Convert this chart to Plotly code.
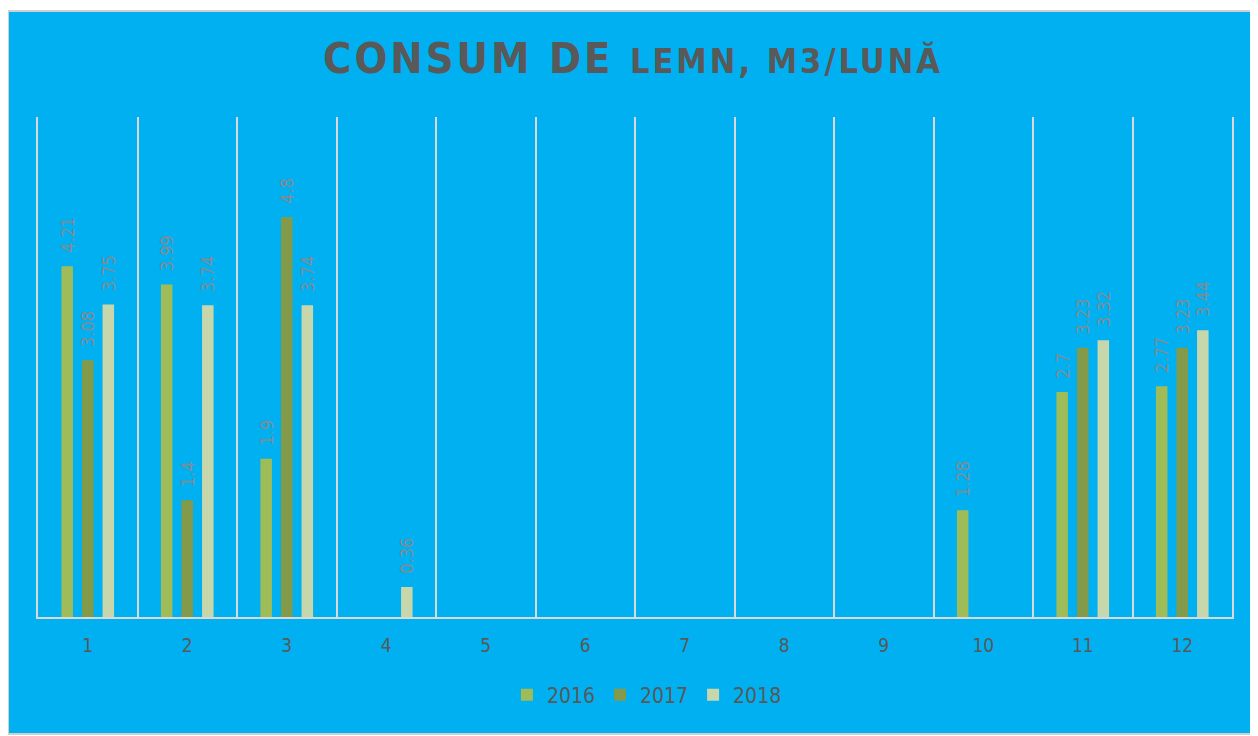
import plotly.graph_objects as go

months = list(range(1, 13))
month_labels = [str(m) for m in months]
years = ["2016", "2017", "2018"]

# None = no bar and no label for that month
v2016 = [4.21, 3.99, 1.9, None, None, None, None, None, None, 1.28, 2.7, 2.77]
v2017 = [3.08, 1.4, 4.8, None, None, None, None, None, None, None, 3.23, 3.23]
v2018 = [3.75, 3.74, 3.74, 0.36, None, None, None, None, None, None, 3.32, 3.44]

series = [v2016, v2017, v2018]
colors = ["#9FBC59", "#839A4A", "#C8D6AC"]

# page body has an 8px margin, so the figure sits at (8, 8) in the window
OFF = 8
W, H = 1258 - OFF, 736 - OFF
L, R, T, B = 38 - OFF, 1258 - 1232, 117 - OFF, 736 - 617
pw, ph = W - L - R, H - T - B


def px_x(p):
    return (p - OFF - L) / pw


def px_y(p):
    return (H - B - (p - OFF)) / ph


fig = go.Figure()
for name, vals, col in zip(years, series, colors):
    fig.add_trace(go.Bar(
        x=months,
        y=vals,
        name=name,
        marker=dict(color=col, line=dict(width=0)),
        # leading spaces keep the rotated label a little above the bar
        text=[("" if v is None else "\u00a0\u00a0" + f"{v:g}") for v in vals],
        textposition="outside",
        textangle=-90,
        constraintext="none",
        cliponaxis=False,
        textfont=dict(family="DejaVu Sans Condensed, DejaVu Sans", size=18, color="#7F8C95"),
    ))

fig.update_layout(
    width=W,
    height=H,
    paper_bgcolor="white",
    plot_bgcolor="#00B0F0",
    margin=dict(l=L, r=R, t=T, b=B),
    barmode="group",
    bargap=0.38,
    bargroupgap=0.44,
    title=dict(
        text=("<b><span style='letter-spacing:3px'>CONSUM DE "
              "<span style='font-size:34px'>LEMN, M3/LUNĂ</span></span></b>"),
        x=0.5,
        xanchor="center",
        y=1 - (58 - OFF) / H,
        yanchor="middle",
        font=dict(family="DejaVu Sans Condensed, DejaVu Sans", size=43, color="#595959"),
    ),
    showlegend=True,
    legend=dict(
        orientation="h",
        x=0.51,
        xanchor="center",
        y=px_y(695),
        yanchor="middle",
        bgcolor="rgba(0,0,0,0)",
        font=dict(family="DejaVu Sans Condensed, DejaVu Sans", size=21, color="#595959"),
        itemwidth=30,
        traceorder="normal",
    ),
    xaxis=dict(
        range=[0.5, 12.5],
        tickmode="array",
        tickvals=months,
        ticktext=month_labels,
        showgrid=False,
        zeroline=False,
        showline=True,
        linecolor="#D9D9D9",
        linewidth=2,
        ticks="",
        ticklabelstandoff=10,
        tickfont=dict(family="DejaVu Sans Condensed, DejaVu Sans", size=19, color="#595959"),
        minor=dict(tick0=0.5, dtick=1, showgrid=True, gridcolor="#D9D9D9", gridwidth=2),
    ),
    yaxis=dict(
        range=[0, 6],
        showgrid=False,
        zeroline=False,
        showticklabels=False,
        showline=True,
        mirror=True,
        linecolor="#D9D9D9",
        linewidth=2,
    ),
    shapes=[
        dict(type="rect", xref="paper", yref="paper",
             x0=px_x(8), x1=px_x(1252), y0=px_y(734), y1=px_y(11),
             fillcolor="#00B0F0", line=dict(color="#D0D0D0", width=2), layer="below"),
    ],
)

fig.write_html("out.html")
